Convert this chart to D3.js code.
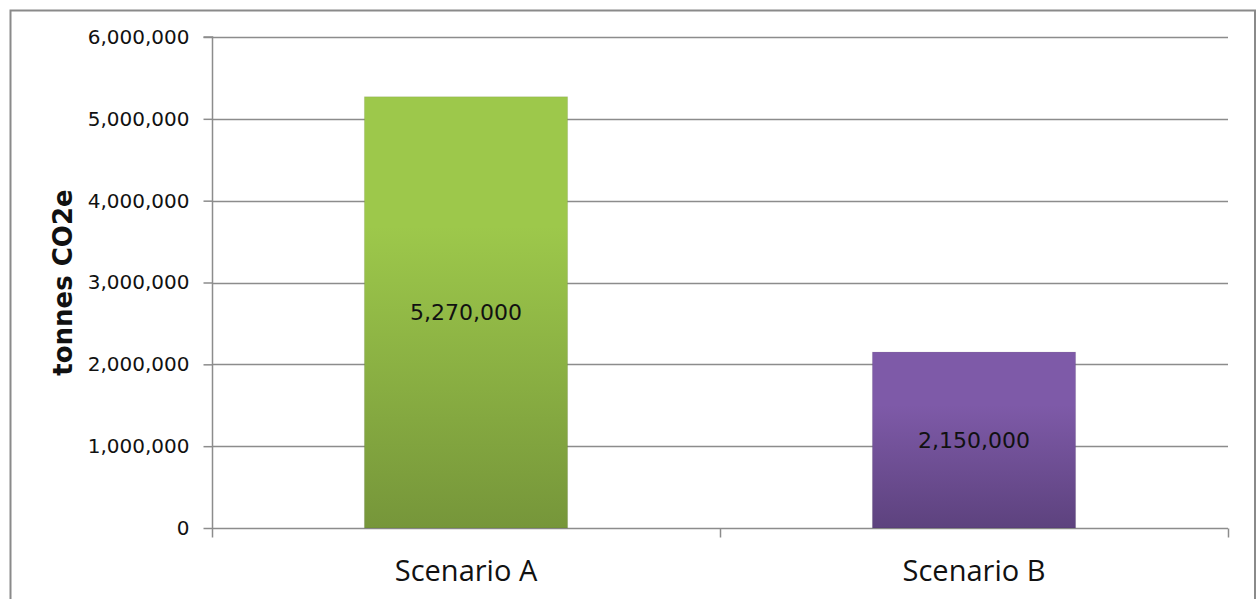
<!DOCTYPE html>
<html>
<head>
<meta charset="utf-8">
<script src="https://cdn.jsdelivr.net/npm/d3@7"></script>
<style>
  html, body { margin: 0; padding: 0; background: #fff; overflow: hidden; }
  svg { display: block; }
</style>
</head>
<body>
<svg id="chart" width="1258" height="599"></svg>
<script>
const categories = ["Scenario A", "Scenario B"];
const values = [5270000, 2150000];
const valueLabels = ["5,270,000", "2,150,000"];
const yTicks = [0, 1000000, 2000000, 3000000, 4000000, 5000000, 6000000];
const yTitle = "tonnes CO2e";
const barColors = [["#9DC84B", "#76963A"], ["#7E5AA8", "#5D427E"]];

const svg = d3.select("#chart");
const m = { left: 212, right: 1228, top: 37, bottom: 528 };

// outer frame
svg.append("rect")
  .attr("x", 10.5).attr("y", 10.5)
  .attr("width", 1244.5).attr("height", 620)
  .attr("fill", "#fff").attr("stroke", "#8a8a8a").attr("stroke-width", 2);

const x = d3.scaleBand().domain(categories).range([m.left, m.right]).paddingInner(0).paddingOuter(0);
const y = d3.scaleLinear().domain([0, 6000000]).range([m.bottom, m.top]);

const defs = svg.append("defs");
barColors.forEach((c, i) => {
  const g = defs.append("linearGradient").attr("id", "g" + i)
    .attr("x1", 0).attr("y1", 0).attr("x2", 0).attr("y2", 1);
  g.append("stop").attr("offset", "0%").attr("stop-color", c[0]);
  g.append("stop").attr("offset", "30%").attr("stop-color", c[0]);
  g.append("stop").attr("offset", "100%").attr("stop-color", c[1]);
});

// gridlines
svg.append("g").selectAll("line").data(yTicks.filter(d => d > 0)).join("line")
  .attr("x1", m.left).attr("x2", m.right)
  .attr("y1", d => Math.round(y(d)) + 0.5).attr("y2", d => Math.round(y(d)) + 0.5)
  .attr("stroke", "#8c8c8c").attr("stroke-width", 1.5);

// y axis
const yAxis = d3.axisLeft(y).tickValues(yTicks).tickSize(9).tickPadding(14)
  .tickFormat(d3.format(","));
const gy = svg.append("g").attr("transform", `translate(${m.left + 0.5},0)`).call(yAxis);
gy.select(".domain").attr("stroke", "#8c8c8c").attr("stroke-width", 1.5).attr("d", `M-9,${m.top}H0V${m.bottom}`);
gy.selectAll(".tick line").attr("stroke", "#8c8c8c").attr("stroke-width", 1.5);
gy.selectAll(".tick text").attr("fill", "#111")
  .style("font-family", "DejaVu Sans, Verdana, sans-serif").style("font-size", "20px");

// x axis
const xAxis = d3.axisBottom(x).tickSize(0).tickPadding(32);
const gx = svg.append("g").attr("transform", `translate(0,${m.bottom + 0.5})`).call(xAxis);
gx.select(".domain").attr("stroke", "#8c8c8c").attr("stroke-width", 1.5).attr("d", `M${m.left},0H${m.right}`);
gx.selectAll(".tick text").attr("fill", "#111")
  .style("font-family", "Open Sans, sans-serif").style("font-size", "29px");
// category boundary ticks
const bounds = [m.left, ...categories.map(c => x(c) + x.bandwidth())];
gx.append("g").selectAll("line").data(bounds).join("line")
  .attr("x1", d => d + 0.5).attr("x2", d => d + 0.5).attr("y1", 0).attr("y2", 9)
  .attr("stroke", "#8c8c8c").attr("stroke-width", 1.5);

// bars
const bw = x.bandwidth() * 0.4;
svg.append("g").selectAll("rect").data(values).join("rect")
  .attr("x", (d, i) => x(categories[i]) + (x.bandwidth() - bw) / 2)
  .attr("y", d => y(d))
  .attr("width", bw)
  .attr("height", d => y(0) - y(d))
  .attr("fill", (d, i) => `url(#g${i})`)
  .attr("stroke", "rgba(0,0,0,0.08)").attr("stroke-width", 1);

// value labels
svg.append("g").selectAll("text").data(values).join("text")
  .attr("x", (d, i) => x(categories[i]) + x.bandwidth() / 2)
  .attr("y", d => (y(d) + y(0)) / 2)
  .attr("text-anchor", "middle").attr("dominant-baseline", "central")
  .attr("fill", "#111")
  .style("font-family", "DejaVu Sans, Verdana, sans-serif").style("font-size", "22px")
  .text((d, i) => valueLabels[i]);

// y title
svg.append("text")
  .attr("transform", `translate(72,${(m.top + m.bottom) / 2}) rotate(-90)`)
  .attr("text-anchor", "middle")
  .attr("fill", "#111")
  .style("font-family", "DejaVu Sans, Verdana, sans-serif").style("font-weight", "bold").style("font-size", "26px")
  .text(yTitle);
</script>
</body>
</html>
